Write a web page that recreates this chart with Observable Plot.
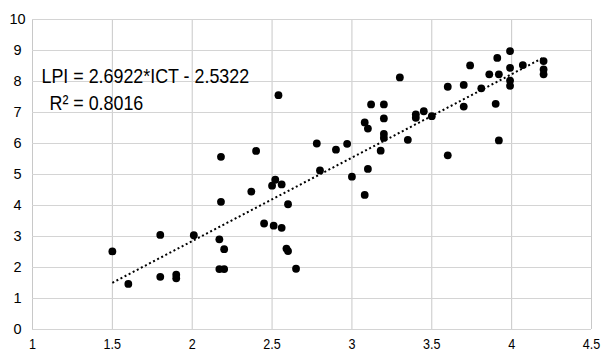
<!DOCTYPE html>
<html><head><meta charset="utf-8">
<script src="https://cdn.jsdelivr.net/npm/d3@7"></script>
<script src="https://cdn.jsdelivr.net/npm/@observablehq/plot@0.6"></script>
<style>body{margin:0;background:#fff;overflow:hidden}</style>
</head><body><div id="chart"></div>
<script>
const ict = [1.50,1.60,1.80,1.80,1.90,1.90,2.01,2.17,2.20,2.17,2.20,2.18,2.18,2.37,2.40,2.45,2.50,2.52,2.51,2.54,2.56,2.56,2.59,2.60,2.60,2.65,2.78,2.80,2.90,2.97,3.00,3.08,3.08,3.10,3.10,3.12,3.18,3.20,3.20,3.20,3.20,3.30,3.35,3.40,3.40,3.45,3.50,3.60,3.60,3.70,3.70,3.74,3.81,3.86,3.90,3.91,3.92,3.92,3.99,3.99,3.99,3.99,4.07,4.20,4.20,4.20];
const lpi = [2.52,1.47,3.05,1.70,1.77,1.65,3.04,2.91,2.59,1.95,1.95,4.12,5.57,4.45,5.76,3.42,4.64,4.83,3.35,7.56,4.68,3.28,2.61,2.53,4.04,1.96,6.00,5.13,5.80,5.99,4.93,6.68,4.34,6.48,5.18,7.26,5.77,7.26,6.81,6.31,6.18,8.13,6.12,6.94,6.83,7.04,6.88,7.83,5.62,7.89,7.19,8.52,7.78,8.23,7.28,8.76,8.23,6.10,8.98,8.44,8.03,7.86,8.53,8.66,8.39,8.23];
const xTicks = [1,1.5,2,2.5,3,3.5,4,4.5];
const yTicks = [0,1,2,3,4,5,6,7,8,9,10];
const fitCoef = [2.6922, -2.5322];
const eqLabel = ["LPI = 2.6922*ICT - 2.5322"];
const r2Label = ["R\u00B2 = 0.8016"];

const points = ict.map((x, i) => ({x, y: lpi[i]}));
const xExt = d3.extent(ict);
const fitLine = xExt.map(x => ({x, y: fitCoef[0] * x + fitCoef[1]}));
const font = "'Liberation Sans', Arial, sans-serif";

const chart = Plot.plot({
  width: 601,
  height: 352,
  marginLeft: 32,
  marginRight: 10,
  marginTop: 19,
  marginBottom: 23,
  style: {fontFamily: font, fontSize: "14px", color: "#000", background: "#fff"},
  x: {domain: [1, 4.5]},
  y: {domain: [0, 10]},
  marks: [
    Plot.gridX(xTicks, {stroke: "#c8c8c8", strokeOpacity: 1}),
    Plot.gridY(yTicks, {stroke: "#d4d4d4", strokeOpacity: 1}),
    Plot.axisX(xTicks, {tickSize: 0, tickPadding: 10, fontSize: 14, label: null, tickFormat: d => String(d), className: "cond"}),
    Plot.axisY(yTicks, {tickSize: 0, tickPadding: 15, textAnchor: "middle", fontSize: 14.5, label: null, tickFormat: d => String(d)}),
    Plot.line(fitLine, {x: "x", y: "y", stroke: "#000", strokeWidth: 2, strokeDasharray: "2,2.6", strokeLinecap: "butt"}),
    Plot.dot(points, {x: "x", y: "y", r: 3.9, fill: "#000", stroke: "none"}),
    Plot.text(eqLabel, {text: d => d, frameAnchor: "top-left", dx: 9, dy: 57, textAnchor: "start", lineAnchor: "middle", fontSize: 21, fill: "#000", className: "anno"}),
    Plot.text(r2Label, {text: d => d, frameAnchor: "top-left", dx: 17, dy: 84, textAnchor: "start", lineAnchor: "middle", fontSize: 21, fill: "#000", className: "anno"})
  ]
});
document.getElementById("chart").append(chart);
// condense annotation text to match the narrow typeface of the original
d3.select(chart).selectAll(".anno text").each(function() {
  const w = this.getComputedTextLength();
  if (w > 0) {
    this.setAttribute("textLength", (w * 0.85).toFixed(1));
    this.setAttribute("lengthAdjust", "spacingAndGlyphs");
  }
});
d3.select(chart).selectAll(".cond text").each(function() {
  const w = this.getComputedTextLength();
  if (w > 0) {
    this.setAttribute("textLength", (w * 0.9).toFixed(1));
    this.setAttribute("lengthAdjust", "spacingAndGlyphs");
  }
});
</script>
</body></html>
